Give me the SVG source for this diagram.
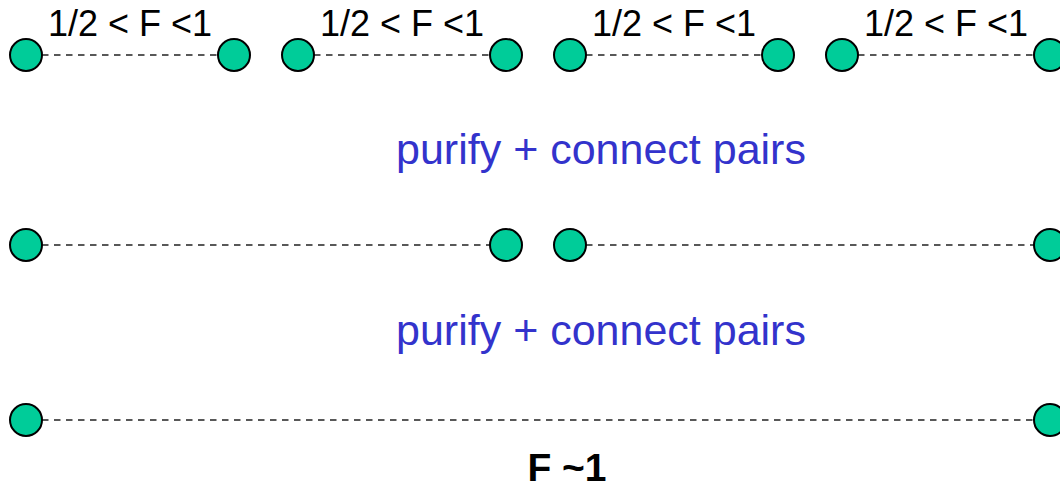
<svg xmlns="http://www.w3.org/2000/svg" width="1060" height="485" viewBox="0 0 1060 485">
<style>
.n{fill:#00CC99;stroke:#000;stroke-width:2}
.e{stroke:#222;stroke-width:1.5;stroke-dasharray:6.5 5.5;fill:none}
.f{font-family:"Liberation Sans",Arial,sans-serif;font-size:36px;fill:#000;text-anchor:middle}
.p{font-family:"Liberation Sans",Arial,sans-serif;font-size:43px;fill:#3333CC;text-anchor:middle}
.b{font-family:"Liberation Sans",Arial,sans-serif;font-size:39px;font-weight:bold;fill:#000;text-anchor:middle}
</style>
<rect width="1060" height="485" fill="#fff"/>
<g id="connectors">
<line class="e" x1="42" y1="55" x2="218" y2="55"/>
<line class="e" x1="314" y1="55" x2="490" y2="55"/>
<line class="e" x1="586" y1="55" x2="762" y2="55"/>
<line class="e" x1="858" y1="55" x2="1034" y2="55"/>
<line class="e" x1="42" y1="245" x2="490" y2="245"/>
<line class="e" x1="586" y1="245" x2="1034" y2="245"/>
<line class="e" x1="42" y1="420" x2="1034" y2="420"/>
</g>
<g id="r1n1"><circle class="n" cx="26" cy="55" r="16"/></g>
<g id="r1n2"><circle class="n" cx="234" cy="55" r="16"/></g>
<g id="r1n3"><circle class="n" cx="298" cy="55" r="16"/></g>
<g id="r1n4"><circle class="n" cx="506" cy="55" r="16"/></g>
<g id="r1n5"><circle class="n" cx="570" cy="55" r="16"/></g>
<g id="r1n6"><circle class="n" cx="778" cy="55" r="16"/></g>
<g id="r1n7"><circle class="n" cx="842" cy="55" r="16"/></g>
<g id="r1n8"><circle class="n" cx="1050" cy="55" r="16"/></g>
<g id="r2n1"><circle class="n" cx="26" cy="245" r="16"/></g>
<g id="r2n2"><circle class="n" cx="506" cy="245" r="16"/></g>
<g id="r2n3"><circle class="n" cx="570" cy="245" r="16"/></g>
<g id="r2n4"><circle class="n" cx="1050" cy="245" r="16"/></g>
<g id="r3n1"><circle class="n" cx="26" cy="420" r="16"/></g>
<g id="r3n2"><circle class="n" cx="1050" cy="420" r="16"/></g>
<g id="labels">
<text class="f" x="130" y="36">1/2 &lt; F &lt;1</text>
<text class="f" x="402" y="36">1/2 &lt; F &lt;1</text>
<text class="f" x="674" y="36">1/2 &lt; F &lt;1</text>
<text class="f" x="946" y="36">1/2 &lt; F &lt;1</text>
<text class="p" x="601" y="164">purify + connect pairs</text>
<text class="p" x="601" y="345">purify + connect pairs</text>
<text class="b" x="567" y="481">F ~1</text>
</g>
</svg>
